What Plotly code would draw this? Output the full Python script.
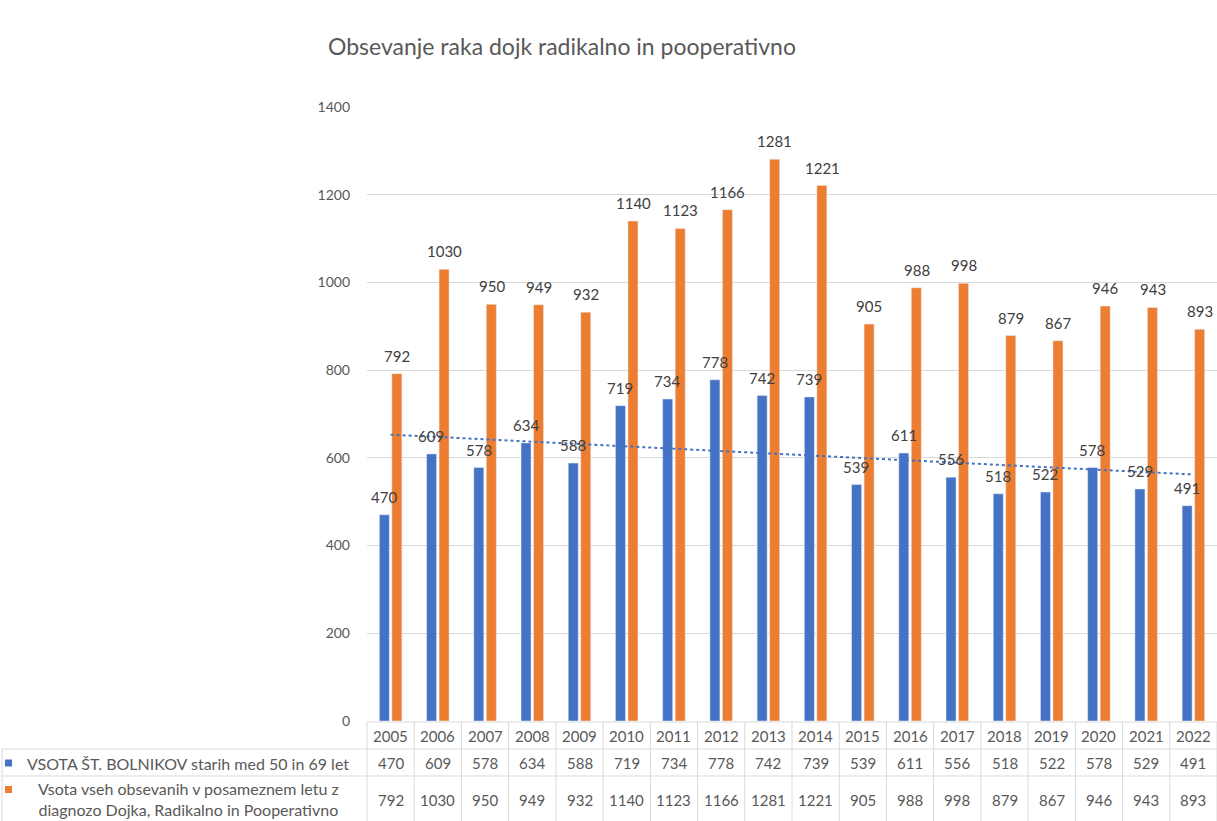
import numpy as np
import plotly.graph_objects as go

# ---- data -------------------------------------------------------------
years = ["2005", "2006", "2007", "2008", "2009", "2010", "2011", "2012", "2013",
         "2014", "2015", "2016", "2017", "2018", "2019", "2020", "2021", "2022"]
patients_50_69 = [470, 609, 578, 634, 588, 719, 734, 778, 742,
                  739, 539, 611, 556, 518, 522, 578, 529, 491]
all_irradiated = [792, 1030, 950, 949, 932, 1140, 1123, 1166, 1281,
                  1221, 905, 988, 998, 879, 867, 946, 943, 893]

name_blue = "VSOTA ŠT. BOLNIKOV starih med 50 in 69 let"
name_orange_lines = ["Vsota vseh obsevanih v posameznem letu z",
                     "diagnozo Dojka, Radikalno in Pooperativno"]
title_text = "Obsevanje raka dojk radikalno in pooperativno"

# ---- styling / layout -------------------------------------------------
BLUE = "#4472C4"
ORANGE = "#ED7D31"
GRID = "#d9d9d9"
TXT = "#595959"
FONT = "Lato, Open Sans, sans-serif"

W, H = 1217, 821
M_L, M_R, M_T, M_B = 367, 0, 107, 100
PW, PH = W - M_L - M_R, H - M_T - M_B
BAR_SHIFT = 6.5  # px offset of each bar from the category centre


def ypap(p):
    """pixel row -> paper y"""
    return (H - M_B - p) / PH


def xpap(p):
    """pixel column -> paper x"""
    return (p - M_L) / PW


# linear trend of the blue series
idx = np.arange(len(years))
k, b0 = np.polyfit(idx, patients_50_69, 1)
trend = k * idx + b0

fig = go.Figure()
fig.add_trace(go.Bar(x=years, y=patients_50_69, marker_color=BLUE,
                     name=name_blue, hoverinfo="x+y"))
fig.add_trace(go.Bar(x=years, y=all_irradiated, marker_color=ORANGE,
                     name=" ".join(name_orange_lines), hoverinfo="x+y"))
fig.add_trace(go.Scatter(x=years, y=trend, mode="lines",
                         line=dict(color=BLUE, width=2, dash="dot"),
                         hoverinfo="skip", name="trend"))

ann = []
# value labels above bars (category axis: annotation x is the category index)
for i in idx:
    for val, shift in ((patients_50_69[i], -BAR_SHIFT), (all_irradiated[i], BAR_SHIFT)):
        ann.append(dict(x=int(i), y=val, xref="x", yref="y", text=str(val),
                        showarrow=False, xshift=shift, yshift=7, yanchor="bottom",
                        font=dict(family=FONT, size=15, color="#404040")))

# data table below the chart
for i in idx:
    i = int(i)
    for text, row in ((years[i], 736), (str(patients_50_69[i]), 763),
                      (str(all_irradiated[i]), 800)):
        ann.append(dict(x=i, y=ypap(row), xref="x", yref="paper", text=text,
                        showarrow=False, yanchor="middle",
                        font=dict(family=FONT, size=15, color=TXT)))

ann.append(dict(x=xpap(188), y=ypap(763), xref="paper", yref="paper",
                text=name_blue, showarrow=False, xanchor="center", yanchor="middle",
                font=dict(family=FONT, size=16, color=TXT)))
ann.append(dict(x=xpap(188), y=ypap(799), xref="paper", yref="paper",
                text="<br>".join(name_orange_lines), showarrow=False,
                xanchor="center", yanchor="middle", align="center",
                font=dict(family=FONT, size=16, color=TXT)))

shapes = []
line = dict(color=GRID, width=1)
# horizontal rules
shapes.append(dict(type="line", xref="paper", yref="paper", x0=0, x1=1,
                   y0=ypap(722), y1=ypap(722), line=line))
for p in (749, 776):
    shapes.append(dict(type="line", xref="paper", yref="paper", x0=xpap(2), x1=1,
                       y0=ypap(p), y1=ypap(p), line=line))
# vertical rules
shapes.append(dict(type="line", xref="paper", yref="paper", x0=xpap(2), x1=xpap(2),
                   y0=ypap(749), y1=ypap(H), line=line))
n = len(years)
for i in range(n + 1):
    shapes.append(dict(type="line", xref="paper", yref="paper", x0=i / n, x1=i / n,
                       y0=ypap(722), y1=ypap(H), line=line))
# legend keys
shapes.append(dict(type="rect", xref="paper", yref="paper", x0=xpap(5), x1=xpap(12),
                   y0=ypap(759.5), y1=ypap(766.5), fillcolor=BLUE, line=dict(width=0)))
shapes.append(dict(type="rect", xref="paper", yref="paper", x0=xpap(5), x1=xpap(12),
                   y0=ypap(786), y1=ypap(793), fillcolor=ORANGE, line=dict(width=0)))

fig.update_layout(
    width=W, height=H,
    margin=dict(l=M_L, r=M_R, t=M_T, b=M_B),
    paper_bgcolor="white", plot_bgcolor="white",
    barmode="group", bargap=0.47, bargroupgap=0.2,
    showlegend=False,
    title=dict(text=title_text, x=562 / W, xref="container", xanchor="center",
               y=1 - 47 / H, yref="container", yanchor="middle",
               font=dict(family=FONT, size=23, color=TXT)),
    xaxis=dict(type="category", range=[-0.5, n - 0.5], showticklabels=False,
               showgrid=False, showline=False, zeroline=False, fixedrange=True),
    yaxis=dict(range=[0, 1400], dtick=200, showgrid=True, gridcolor=GRID, gridwidth=1,
               zeroline=False, showline=False, ticks="", ticklabelstandoff=16,
               tickfont=dict(family=FONT, size=14, color=TXT)),
    annotations=ann,
    shapes=shapes,
)

fig.write_html("out.html")
